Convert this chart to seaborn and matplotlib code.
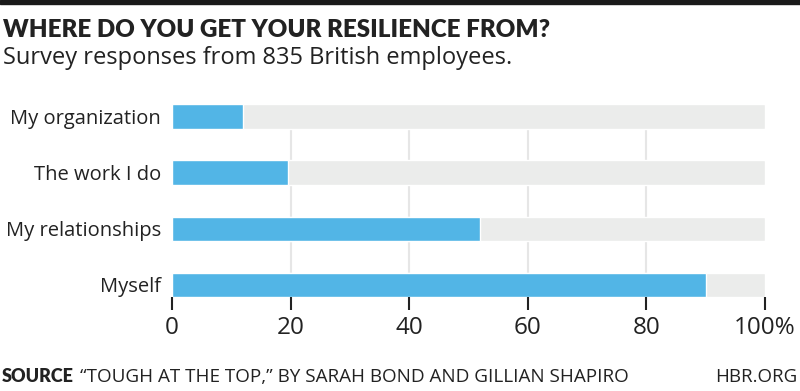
import matplotlib
matplotlib.use("Agg")
import matplotlib.pyplot as plt
import seaborn as sns
import pandas as pd
from matplotlib.patches import Rectangle

categories = ["My organization", "The work I do", "My relationships", "Myself"]
shares = [12, 19.6, 52, 90]
full = [100, 100, 100, 100]
tick_values = [0, 20, 40, 60, 80, 100]
tick_labels = ["0", "20", "40", "60", "80", "100%"]

blue = "#52B5E6"
track = "#EBECEB"
ink = "#222222"

sns.set_theme(style="white")
plt.rcParams["font.family"] = ["Open Sans", "DejaVu Sans"]

df = pd.DataFrame({"category": categories, "share": shares, "full": full})

fig = plt.figure(figsize=(8, 3.91), dpi=100)
ax = fig.add_axes([0.215, 0.241, 0.741, 0.492])

sns.barplot(ax=ax, data=df, y="category", x="full", color=track,
            width=0.43, saturation=1, orient="h", zorder=2)
sns.barplot(ax=ax, data=df, y="category", x="share", color=blue,
            width=0.43, saturation=1, orient="h", zorder=3)

ax.set_xlim(0, 100)
ax.set_ylim(3.215, -0.215)
ax.set_xticks(tick_values)
ax.set_xticklabels(tick_labels)
ax.set_xlabel("")
ax.set_ylabel("")
ax.grid(axis="x", color="#E6E6E6", linewidth=1.5, zorder=0)
ax.set_axisbelow(True)
gl = ax.xaxis.get_gridlines()
gl[0].set_visible(False)
gl[-1].set_visible(False)
sns.despine(ax=ax, left=True, bottom=True)
ax.tick_params(axis="x", bottom=True, length=9, width=1.5, color=ink,
               labelsize=17.5, labelcolor=ink, pad=5)
ax.tick_params(axis="y", left=False, length=0, labelsize=14.5, labelcolor=ink, pad=8)

fig.patches.append(Rectangle((0, 1 - 4 / 391), 1, 4 / 391, transform=fig.transFigure,
                             color="#1a1a1a", zorder=5))
fig.text(0.004, 1 - 37 / 391, "WHERE DO YOU GET YOUR RESILIENCE FROM?",
         fontsize=17.4, fontweight="heavy", family=["Lato", "DejaVu Sans"],
         color=ink, va="baseline", ha="left")
fig.text(0.004, 1 - 64 / 391, "Survey responses from 835 British employees.",
         fontsize=17, color=ink, va="baseline", ha="left")

fig.text(0.002, 1 - 382 / 391, "SOURCE", fontsize=13, fontweight="heavy",
         family=["Lato", "DejaVu Sans"], color=ink, va="baseline", ha="left")
fig.text(0.1, 1 - 382 / 391, "\u201cTOUGH AT THE TOP,\u201d BY SARAH BOND AND GILLIAN SHAPIRO",
         fontsize=13.6, color=ink, va="baseline", ha="left")
fig.text(0.997, 1 - 382 / 391, "HBR.ORG", fontsize=13.5, color=ink,
         va="baseline", ha="right")

fig.savefig("out.png", dpi=100)
